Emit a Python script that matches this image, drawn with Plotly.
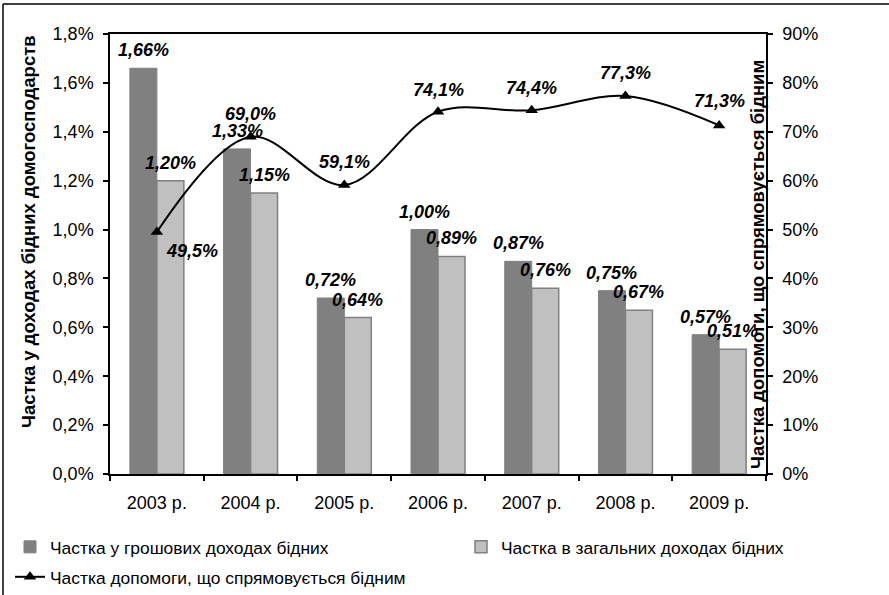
import plotly.graph_objects as go

years = ["2003 р.", "2004 р.", "2005 р.", "2006 р.", "2007 р.", "2008 р.", "2009 р."]
cash_share = [1.66, 1.33, 0.72, 1.00, 0.87, 0.75, 0.57]
total_share = [1.20, 1.15, 0.64, 0.89, 0.76, 0.67, 0.51]
aid_share = [49.5, 69.0, 59.1, 74.1, 74.4, 77.3, 71.3]
# label offsets (px) for the line labels
aid_label_dx = [35, 0, 0, 0, 0, 0, 0]
aid_label_dy = [-19, 23, 23, 22, 22, 23, 24]

name_cash = "Частка у грошових доходах бідних"
name_total = "Частка в загальних доходах бідних"
name_aid = "Частка допомоги, що спрямовується бідним"
left_title = "Частка у доходах бідних домогосподарств"
right_title = "Частка допомоги, що спрямовується бідним"

FONT = "Liberation Sans, Arial, sans-serif"
W, H = 889, 595
L, R, T, B = 110, 766, 34, 474
PW, PH = R - L, B - T

def px_x(x):
    return (x - L) / PW

def px_y(y):
    return (B - y) / PH

def fmt(v, d):
    return "<b><i>" + f"{v:.{d}f}".replace(".", ",") + "%</i></b>"

label_font = dict(family=FONT, size=18, color="black")

fig = go.Figure()
fig.add_trace(go.Bar(
    x=years, y=cash_share, name=name_cash,
    marker=dict(color="#808080", line=dict(color="#808080", width=1)),
    legend="legend",
))
fig.add_trace(go.Bar(
    x=years, y=total_share, name=name_total,
    marker=dict(color="#C0C0C0", line=dict(color="#808080", width=1.5)),
    legend="legend2",
))
fig.add_trace(go.Scatter(
    x=years, y=aid_share, name=name_aid, yaxis="y2",
    mode="lines+markers",
    line=dict(color="black", width=2, shape="spline", smoothing=1),
    marker=dict(symbol="triangle-up", size=11, color="black"),
    cliponaxis=False,
    legend="legend3",
))

annotations = []
# bar value labels
for series, shift in ((cash_share, -13.5), (total_share, 13.5)):
    for cat, val in zip(years, series):
        annotations.append(dict(
            x=cat, y=val, xref="x", yref="y", xshift=shift, yshift=6,
            yanchor="bottom", showarrow=False, text=fmt(val, 2), font=label_font,
        ))
# line value labels
for cat, val, dx, dy in zip(years, aid_share, aid_label_dx, aid_label_dy):
    annotations.append(dict(
        x=cat, y=val, xref="x", yref="y2", xshift=dx, yshift=dy,
        xanchor="center", yanchor="middle", showarrow=False,
        text=fmt(val, 1), font=label_font,
    ))

title_font = dict(family=FONT, size=18.5, color="black")
annotations += [
    dict(text="<b>" + left_title + "</b>", textangle=-90, xref="paper", yref="paper",
         x=px_x(29), y=px_y(232), xanchor="center", yanchor="middle",
         showarrow=False, font=title_font),
    dict(text="<b>" + right_title + "</b>", textangle=-90, xref="paper", yref="paper",
         x=px_x(757), y=px_y(265), xanchor="center", yanchor="middle",
         showarrow=False, font=title_font),
]

tickfont = dict(family=FONT, size=18, color="black")
axis_common = dict(showline=True, linecolor="black", linewidth=1.5, ticks="outside",
                   tickcolor="black", tickwidth=1.5, ticklen=5, showgrid=False,
                   zeroline=False, tickfont=tickfont, automargin=False)

legend_common = dict(orientation="h", bgcolor="rgba(0,0,0,0)", yanchor="middle",
                     xanchor="left", font=dict(family=FONT, size=17.4, color="black"),
                     itemwidth=30)

fig.update_layout(
    width=W, height=H,
    margin=dict(l=L, r=W - R, t=T, b=H - B, autoexpand=False),
    paper_bgcolor="white", plot_bgcolor="white",
    separators=", ",
    showlegend=True,
    barmode="group", bargap=0.424, bargroupgap=0,
    font=dict(family=FONT, size=17, color="black"),
    xaxis=dict(**axis_common, mirror=True, tickson="boundaries", ticklabelstandoff=12),
    yaxis=dict(**axis_common, range=[0, 1.8], dtick=0.2, tickformat=".1f",
               ticksuffix="%", ticklabelstandoff=6),
    yaxis2=dict(**axis_common, overlaying="y", side="right", range=[0, 90], dtick=10,
                tickformat="d", ticksuffix="%", ticklabelstandoff=6),
    legend=dict(**legend_common, x=px_x(10), y=px_y(547)),
    legend2=dict(**legend_common, x=px_x(461), y=px_y(547)),
    legend3=dict(**legend_common, x=px_x(10), y=px_y(577)),
    annotations=annotations,
    shapes=[
        dict(type="line", xref="paper", yref="paper", x0=px_x(3), x1=px_x(3),
             y0=px_y(4), y1=px_y(600), line=dict(color="black", width=1.5)),
        dict(type="line", xref="paper", yref="paper", x0=px_x(3), x1=px_x(895),
             y0=px_y(4), y1=px_y(4), line=dict(color="black", width=1.5)),
    ],
)

fig.write_html("out.html", config={"displayModeBar": False},
               post_script="document.body.style.margin='0';")
